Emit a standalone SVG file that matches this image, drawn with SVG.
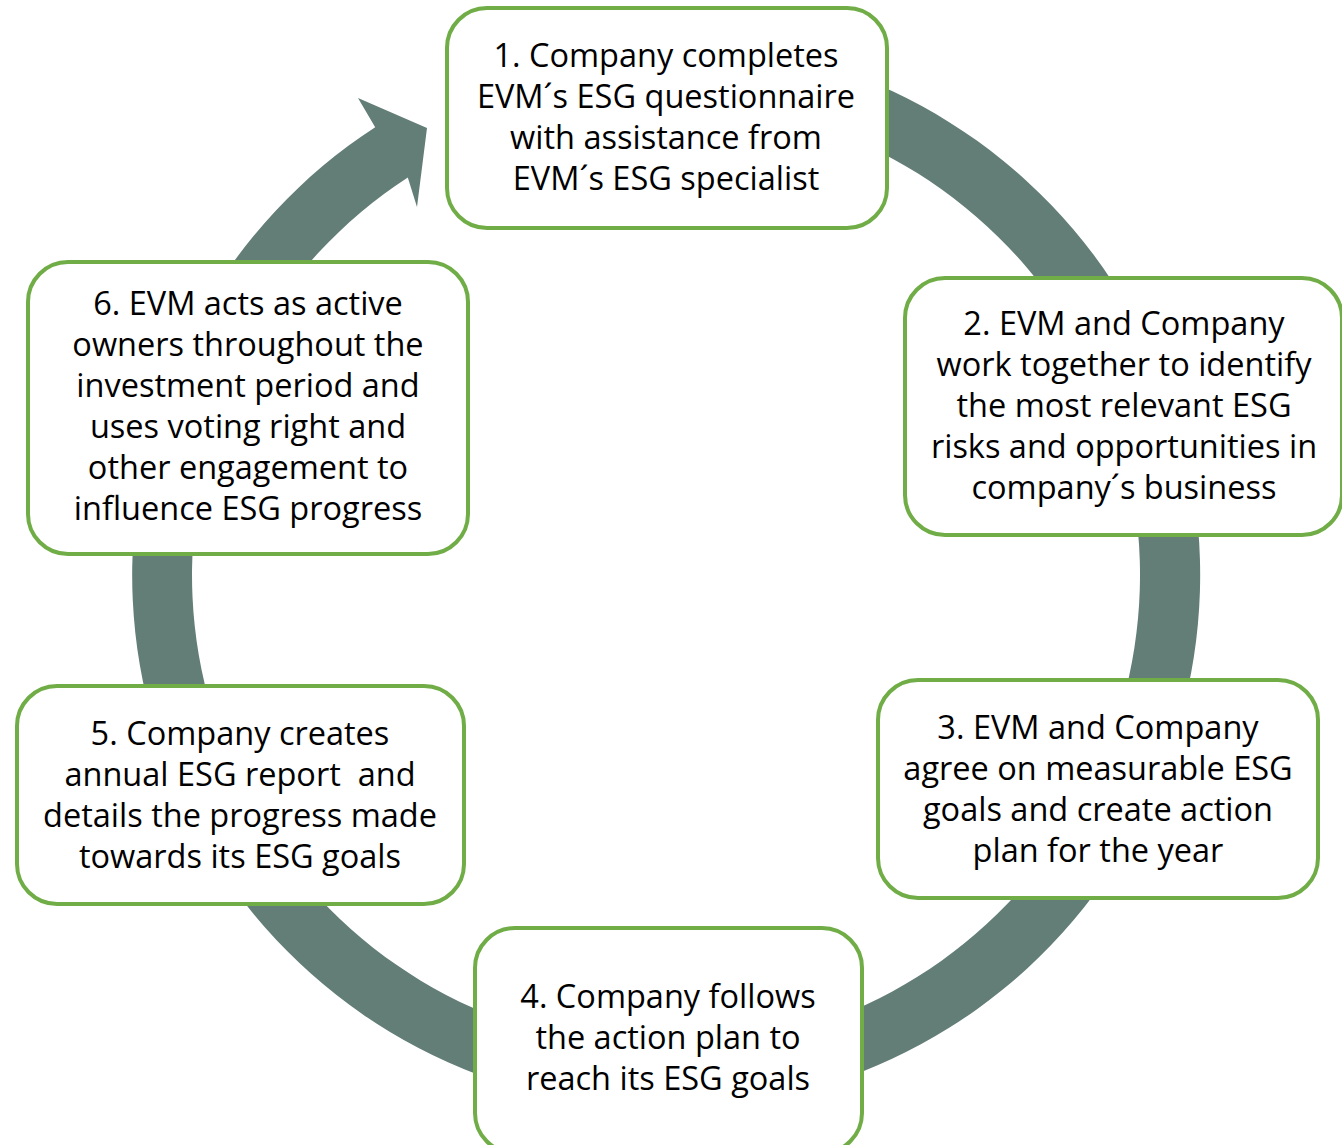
<svg xmlns="http://www.w3.org/2000/svg" width="1342" height="1145" viewBox="0 0 1342 1145">
  <style>
    .box { fill: #ffffff; stroke: #70ad47; stroke-width: 4; }
    .lbl { font-family: "Open Sans", Lato, "Liberation Sans", sans-serif; font-size: 32.5px; fill: #000000; text-anchor: middle; white-space: pre; }
    .ring { fill: #637d77; }
  </style>
  <rect width="1342" height="1145" fill="#ffffff"/>

  <!-- circular cycle arrow behind the steps -->
  <g id="connectors">
    <path class="ring" d="M 573.3 49.1 A 534 534 0 1 1 375.2 127.2 L 358 98 L 427 128 L 417 207 L 407.8 177.5 A 474 474 0 1 0 583.7 108.2 Z"/>
  </g>

  <g id="step1">
    <rect class="box" x="447" y="8" width="440" height="220" rx="40"/>
    <text class="lbl" x="666" y="67">1. Company completes</text>
    <text class="lbl" x="666" y="108">EVM´s ESG questionnaire</text>
    <text class="lbl" x="666" y="149">with assistance from</text>
    <text class="lbl" x="666" y="190">EVM´s ESG specialist</text>
  </g>

  <g id="step2">
    <rect class="box" x="905" y="278" width="437" height="257" rx="40"/>
    <text class="lbl" x="1124" y="335">2. EVM and Company</text>
    <text class="lbl" x="1124" y="376">work together to identify</text>
    <text class="lbl" x="1124" y="417">the most relevant ESG</text>
    <text class="lbl" x="1124" y="458">risks and opportunities in</text>
    <text class="lbl" x="1124" y="499">company´s business</text>
  </g>

  <g id="step3">
    <rect class="box" x="878" y="680" width="440" height="218" rx="40"/>
    <text class="lbl" x="1098" y="739">3. EVM and Company</text>
    <text class="lbl" x="1098" y="780">agree on measurable ESG</text>
    <text class="lbl" x="1098" y="821">goals and create action</text>
    <text class="lbl" x="1098" y="862">plan for the year</text>
  </g>

  <g id="step4">
    <rect class="box" x="475" y="928" width="387" height="225" rx="40"/>
    <text class="lbl" x="668" y="1008">4. Company follows</text>
    <text class="lbl" x="668" y="1049">the action plan to</text>
    <text class="lbl" x="668" y="1090">reach its ESG goals</text>
  </g>

  <g id="step5">
    <rect class="box" x="17" y="686" width="447" height="218" rx="40"/>
    <text class="lbl" x="240" y="745">5. Company creates</text>
    <text class="lbl" x="240" y="786">annual ESG report  and</text>
    <text class="lbl" x="240" y="827">details the progress made</text>
    <text class="lbl" x="240" y="868">towards its ESG goals</text>
  </g>

  <g id="step6">
    <rect class="box" x="28" y="262" width="440" height="292" rx="40"/>
    <text class="lbl" x="248" y="315">6. EVM acts as active</text>
    <text class="lbl" x="248" y="356">owners throughout the</text>
    <text class="lbl" x="248" y="397">investment period and</text>
    <text class="lbl" x="248" y="438">uses voting right and</text>
    <text class="lbl" x="248" y="479">other engagement to</text>
    <text class="lbl" x="248" y="520">influence ESG progress</text>
  </g>
</svg>
